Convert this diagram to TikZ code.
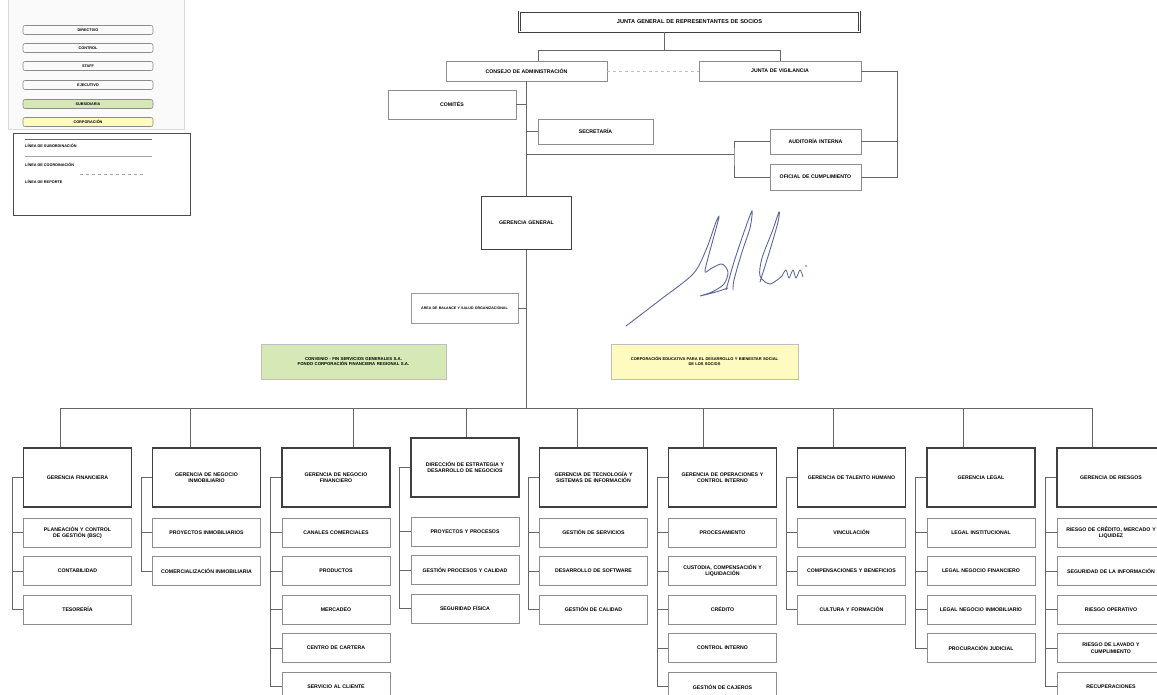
\documentclass[tikz,border=0pt]{standalone}
\usepackage{fontspec}
\setmainfont{Liberation Sans}
\usetikzlibrary{positioning}
\definecolor{subgreen}{RGB}{214,232,182}
\definecolor{corpyellow}{RGB}{255,250,192}
\definecolor{inkblue}{RGB}{92,102,150}
\hyphenpenalty=10000
\exhyphenpenalty=10000

\begin{document}
\begin{tikzpicture}[
    x=1pt, y=-1pt,
    font=\fontsize{5.2}{6.2}\selectfont\bfseries,
    unitbox/.style={draw=black!45, line width=0.6pt, fill=white, minimum width=108pt, minimum height=29pt, text width=100pt, align=center, inner sep=1pt},
    headbox/.style={unitbox, draw=black!75, line width=1.1pt, minimum height=59pt, text width=96pt},
    boardbox/.style={unitbox, minimum height=20pt},
    tagbox/.style={draw=black!45, rounded corners=2pt, line width=0.6pt, minimum width=130pt, minimum height=9pt, inner sep=0pt, font=\fontsize{3.8}{4}\selectfont\bfseries},
    keytext/.style={anchor=west, inner sep=0pt, font=\fontsize{3.8}{4}\selectfont\bfseries},
    wire/.style={draw=black!60, line width=0.6pt}
]
\useasboundingbox (0,0) rectangle (1157,695);

% legend
\draw[draw=black!15, fill=black!2] (8,-5) rectangle (184,129);
\node[tagbox] (keydir) at (88,30) {DIRECTIVO};
\node[tagbox] (keyctl) at (88,48) {CONTROL};
\node[tagbox] (keystf) at (88,66) {STAFF};
\node[tagbox] (keyeje) at (88,85) {EJECUTIVO};
\node[tagbox, fill=subgreen] (keysub) at (88,104) {SUBSIDIARIA};
\node[tagbox, fill=corpyellow] (keycor) at (88,122) {CORPORACIÓN};
\draw[draw=black!70, line width=0.9pt, fill=white] (13,133) rectangle (190,215);
\draw[wire] (25,139) -- (152,139);
\node[keytext] (keysubo) at (25,146) {LÍNEA DE SUBORDINACIÓN};
\draw[wire, draw=black!35] (25,156) -- (152,156);
\node[keytext] (keycoor) at (25,165) {LÍNEA DE COORDINACIÓN};
\draw[wire, draw=black!35, dashed] (80,174) -- (143,174);
\node[keytext] (keyrep) at (25,182) {LÍNEA DE REPORTE};

% governing bodies
\node[boardbox, draw=black!75, double, double distance=1pt, line width=0.7pt, minimum width=340pt, text width=330pt, font=\fontsize{5.6}{6}\selectfont\bfseries] (junta) at (689.5,22) {JUNTA GENERAL DE REPRESENTANTES DE SOCIOS};
\node[boardbox, minimum width=161pt, text width=150pt] (consejo) at (526.5,71) {CONSEJO DE ADMINISTRACIÓN};
\node[boardbox, minimum width=162pt, text width=150pt] (vigilancia) at (780,71) {JUNTA DE VIGILANCIA};
\node[unitbox, minimum width=128pt] (comites) at (452,104.5) {COMITÉS};
\node[unitbox, minimum width=115pt, minimum height=25pt] (secretaria) at (595.5,131.5) {SECRETARÍA};
\node[unitbox, minimum width=91pt, minimum height=25pt, text width=85pt] (auditoria) at (815.5,141.5) {AUDITORÍA INTERNA};
\node[unitbox, minimum width=91pt, minimum height=26pt, text width=85pt] (oficial) at (815.5,177) {OFICIAL DE CUMPLIMIENTO};

\draw[wire] ([xshift=-25pt]junta.south) -- ++(0,19);
\draw[wire] ([xshift=11.5pt]consejo.north) -- ++(0,-10) -| (vigilancia.north);
\draw[wire, draw=black!25, dashed] (consejo.east) -- (vigilancia.west);
\draw[wire] (comites.east) -- (comites.east -| consejo.south);
\draw[wire] (secretaria.west) -- (secretaria.west -| consejo.south);
\coordinate (ctl) at (734,154);
\draw[wire] (ctl -| consejo.south) -- (ctl);
\draw[wire] (auditoria.west) -| (ctl) |- (oficial.west);
\draw[wire] (vigilancia.east) -- ++(36,0) |- (oficial.east);
\draw[wire] (auditoria.east) -- ++(36,0);

% general management
\node[unitbox, draw=black!75, line width=1.1pt, minimum width=90pt, minimum height=53pt, text width=84pt] (gerencia) at (526.5,223) {GERENCIA GENERAL};
\node[unitbox, draw=black!40, minimum width=107pt, minimum height=30pt, text width=104pt, font=\fontsize{3.6}{4}\selectfont\bfseries] (balance) at (464.5,308) {ÁREA DE BALANCE Y SALUD ORGANIZACIONAL};
\node[unitbox, draw=black!25, fill=subgreen, minimum width=185pt, minimum height=35pt, text width=170pt, font=\fontsize{4.3}{5.2}\selectfont\bfseries] (subsidiaria) at (353.5,361.5) {CONVENIO - FIN SERVICIOS GENERALES S.A.\\FONDO CORPORACIÓN FINANCIERA REGIONAL S.A.};
\node[unitbox, draw=black!25, fill=corpyellow, minimum width=187pt, minimum height=35pt, text width=178pt, font=\fontsize{4}{5.2}\selectfont\bfseries] (corporacion) at (704.5,361.5) {CORPORACIÓN EDUCATIVA PARA EL DESARROLLO Y BIENESTAR SOCIAL\\DE LOS SOCIOS};

\draw[wire] (consejo.south) -- (gerencia.north);
\draw[wire] (balance.east) -- (balance.east -| gerencia.south);

% signature
\draw[inkblue, line width=0.9pt, line cap=round] plot[smooth] coordinates {(626,326) (660,300) (693,274) (706,250) (716,222) (719,217) (714,236) (708,258) (705,272) (712,268) (722,264) (728,272) (724,284) (712,292) (700,296) (716,292) (728,288)};
\draw[inkblue, line width=0.9pt, line cap=round] plot[smooth] coordinates {(726,290) (734,262) (744,232) (752,211) (750,228) (742,252) (734,280) (733,290)};
\draw[inkblue, line width=0.9pt, line cap=round] plot[smooth] coordinates {(760,282) (770,250) (778,222) (779,212) (772,232) (762,258) (760,276) (770,284) (782,276)};
\draw[inkblue, line width=0.8pt, line cap=round] plot[smooth] coordinates {(782,276) (786,270) (789,278) (793,270) (796,278) (800,270) (803,277)};
\fill[inkblue] (806,266) circle (0.8pt);

% departments
\node[headbox] (fin) at (77.5,477.5) {GERENCIA FINANCIERA};
\node[unitbox, below=10pt of fin] (fin1) {PLANEACIÓN Y CONTROL DE GESTIÓN (BSC)};
\node[unitbox, below=9pt of fin1] (fin2) {CONTABILIDAD};
\node[unitbox, below=9pt of fin2] (fin3) {TESORERÍA};

\node[headbox] (inm) at (206.5,477.5) {GERENCIA DE NEGOCIO\\INMOBILIARIO};
\node[unitbox, below=10pt of inm] (inm1) {PROYECTOS INMOBILIARIOS};
\node[unitbox, below=9pt of inm1] (inm2) {COMERCIALIZACIÓN INMOBILIARIA};

\node[headbox] (nfi) at (336,477.5) {GERENCIA DE NEGOCIO\\FINANCIERO};
\node[unitbox, below=10pt of nfi] (nfi1) {CANALES COMERCIALES};
\node[unitbox, below=9pt of nfi1] (nfi2) {PRODUCTOS};
\node[unitbox, below=9pt of nfi2] (nfi3) {MERCADEO};
\node[unitbox, below=9pt of nfi3] (nfi4) {CENTRO DE CARTERA};
\node[unitbox, below=9pt of nfi4] (nfi5) {SERVICIO AL CLIENTE};

\node[headbox] (est) at (465,467.5) {DIRECCIÓN DE ESTRATEGIA Y DESARROLLO DE NEGOCIOS};
\node[unitbox, below=19pt of est] (est1) {PROYECTOS Y PROCESOS};
\node[unitbox, below=9pt of est1] (est2) {GESTIÓN PROCESOS Y CALIDAD};
\node[unitbox, below=9pt of est2] (est3) {SEGURIDAD FÍSICA};

\node[headbox] (tec) at (593.5,477.5) {GERENCIA DE TECNOLOGÍA Y SISTEMAS DE INFORMACIÓN};
\node[unitbox, below=10pt of tec] (tec1) {GESTIÓN DE SERVICIOS};
\node[unitbox, below=9pt of tec1] (tec2) {DESARROLLO DE SOFTWARE};
\node[unitbox, below=9pt of tec2] (tec3) {GESTIÓN DE CALIDAD};

\node[headbox] (ope) at (722.5,477.5) {GERENCIA DE OPERACIONES Y\\CONTROL INTERNO};
\node[unitbox, below=10pt of ope] (ope1) {PROCESAMIENTO};
\node[unitbox, below=9pt of ope1] (ope2) {CUSTODIA, COMPENSACIÓN Y\\LIQUIDACIÓN};
\node[unitbox, below=9pt of ope2] (ope3) {CRÉDITO};
\node[unitbox, below=9pt of ope3] (ope4) {CONTROL INTERNO};
\node[unitbox, below=9pt of ope4] (ope5) {GESTIÓN DE CAJEROS};

\node[headbox] (tal) at (851.5,477.5) {GERENCIA DE TALENTO HUMANO};
\node[unitbox, below=10pt of tal] (tal1) {VINCULACIÓN};
\node[unitbox, below=9pt of tal1] (tal2) {COMPENSACIONES Y BENEFICIOS};
\node[unitbox, below=9pt of tal2] (tal3) {CULTURA Y FORMACIÓN};

\node[headbox] (leg) at (981,477.5) {GERENCIA LEGAL};
\node[unitbox, below=10pt of leg] (leg1) {LEGAL INSTITUCIONAL};
\node[unitbox, below=9pt of leg1] (leg2) {LEGAL NEGOCIO FINANCIERO};
\node[unitbox, below=9pt of leg2] (leg3) {LEGAL NEGOCIO INMOBILIARIO};
\node[unitbox, below=9pt of leg3] (leg4) {PROCURACIÓN JUDICIAL};

\node[headbox] (rie) at (1111,477.5) {GERENCIA DE RIESGOS};
\node[unitbox, below=10pt of rie] (rie1) {RIESGO DE CRÉDITO, MERCADO Y\\LIQUIDEZ};
\node[unitbox, below=9pt of rie1] (rie2) {SEGURIDAD DE LA INFORMACIÓN};
\node[unitbox, below=9pt of rie2] (rie3) {RIESGO OPERATIVO};
\node[unitbox, below=9pt of rie3] (rie4) {RIESGO DE LAVADO Y\\CUMPLIMIENTO};
\node[unitbox, below=9pt of rie4] (rie5) {RECUPERACIONES};

% bus to the departments
\coordinate (bus1) at (60,408);
\coordinate (bus2) at (190,408);
\coordinate (bus3) at (353,408);
\coordinate (bus4) at (466,408);
\coordinate (bus5) at (577,408);
\coordinate (bus6) at (703,408);
\coordinate (bus7) at (833,408);
\coordinate (bus8) at (963,408);
\coordinate (bus9) at (1092,408);
\draw[wire] (gerencia.south) -- (gerencia.south |- bus1);
\draw[wire] (bus1) -- (bus9);
\foreach \b/\h in {bus1/fin, bus2/inm, bus3/nfi, bus4/est, bus5/tec, bus6/ope, bus7/tal, bus8/leg, bus9/rie}
    \draw[wire] (\b) -- (\b |- \h.north);

% brackets
\foreach \h/\l in {fin/fin3, inm/inm2, nfi/nfi5, est/est3, tec/tec3, ope/ope5, tal/tal3, leg/leg4, rie/rie5}
    \draw[wire] (\h.west) -- ++(-11,0) |- (\l.west);
\foreach \n in {fin1, fin2, inm1, nfi1, nfi2, nfi3, nfi4, est1, est2, tec1, tec2, ope1, ope2, ope3, ope4, tal1, tal2, leg1, leg2, leg3, rie1, rie2, rie3, rie4}
    \draw[wire] (\n.west) -- ++(-11,0);

\end{tikzpicture}
\end{document}
